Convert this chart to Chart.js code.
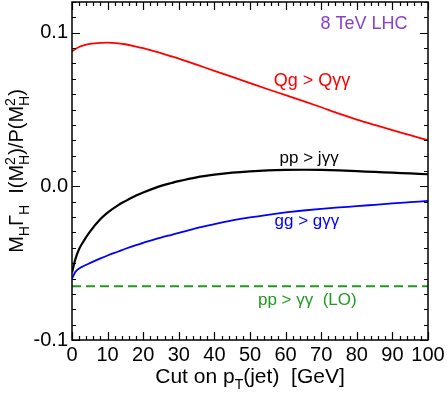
<!DOCTYPE html>
<html>
<head>
<meta charset="utf-8">
<script src="https://cdn.jsdelivr.net/npm/chart.js@4"></script>
<style>
  html, body { margin: 0; padding: 0; background: #fff; }
  #wrap { width: 447px; height: 393px; }
</style>
</head>
<body>
<div id="wrap"><canvas id="myChart" width="447" height="393"></canvas></div>
<script>
// pT(jet) cut values in GeV
const cuts = [0, 1, 2, 3, 5, 8, 10, 13, 15, 18, 20, 23, 25, 28, 30, 35, 40, 45, 50, 55, 60, 65, 70, 75, 80, 85, 90, 95, 100];
const qgQaa = [0.088, 0.0895, 0.0907, 0.0916, 0.0927, 0.0934, 0.0935, 0.0931, 0.0925, 0.0910, 0.0899, 0.0880, 0.0867, 0.0846, 0.0832, 0.0792, 0.0752, 0.0712, 0.0672, 0.0632, 0.0594, 0.0555, 0.0515, 0.0473, 0.0435, 0.0400, 0.0366, 0.0333, 0.0300];
const ppJaa = [-0.056, -0.047, -0.0408, -0.0366, -0.0296, -0.0213, -0.0171, -0.0122, -0.0096, -0.0060, -0.0040, -0.0013, 0.0003, 0.0022, 0.0034, 0.0059, 0.0076, 0.0089, 0.0098, 0.0104, 0.0107, 0.0108, 0.0107, 0.0104, 0.0099, 0.0094, 0.0089, 0.0084, 0.0079];
const ggGaa = [-0.060, -0.0555, -0.0535, -0.0522, -0.0500, -0.0469, -0.0450, -0.0424, -0.0406, -0.0382, -0.0368, -0.0346, -0.0333, -0.0315, -0.0303, -0.0272, -0.0246, -0.0222, -0.0202, -0.0185, -0.0170, -0.0157, -0.0146, -0.0137, -0.0129, -0.0120, -0.0111, -0.0103, -0.0095];
const ppAaLO = [-0.065, -0.065];
const loCuts = [0, 100];

const notes = [
    { text: "8 TeV LHC", x: 82, y: 0.1058, color: "#8a3fd0", size: 18 },
    { text: "Qg > Q\u03b3\u03b3", x: 67.4, y: 0.0683, color: "#ff0000", size: 18 },
    { text: "pp > j\u03b3\u03b3", x: 66.6, y: 0.0181, color: "#000000", size: 17 },
    { text: "gg > g\u03b3\u03b3", x: 66, y: -0.0227, color: "#0000ff", size: 17 },
    { text: "pp > \u03b3\u03b3  (LO)", x: 66.1, y: -0.0744, color: "#1f9a1f", size: 17 }
];

const FONT = "'Liberation Sans', Arial, Helvetica, sans-serif";

function pts(xs, ys) {
    return xs.map((x, i) => ({ x: x, y: ys[i] }));
}

// draws a run of text pieces: plain, subscript, or stacked sub+sup
function richWidth(ctx, segs, size) {
    let w = 0;
    const small = Math.round(size * 0.68);
    segs.forEach(s => {
        if (s.sub || s.sup) {
            ctx.font = small + "px " + FONT;
            w += Math.max(s.sub ? ctx.measureText(s.sub).width : 0, s.sup ? ctx.measureText(s.sup).width : 0);
        } else {
            ctx.font = size + "px " + FONT;
            w += ctx.measureText(s.t).width;
        }
    });
    return w;
}

function drawRich(ctx, segs, size, x, y) {
    const small = Math.round(size * 0.68);
    let cx = x - richWidth(ctx, segs, size) / 2;
    ctx.textBaseline = "alphabetic";
    ctx.textAlign = "left";
    segs.forEach(s => {
        if (s.sub || s.sup) {
            ctx.font = small + "px " + FONT;
            let w = 0;
            if (s.sub) { ctx.fillText(s.sub, cx, y + size * 0.3); w = ctx.measureText(s.sub).width; }
            if (s.sup) { ctx.fillText(s.sup, cx, y - size * 0.42); w = Math.max(w, ctx.measureText(s.sup).width); }
            cx += w;
        } else {
            ctx.font = size + "px " + FONT;
            ctx.fillText(s.t, cx, y);
            cx += ctx.measureText(s.t).width;
        }
    });
}

const frame = {
    id: "frame",
    afterDraw(chart) {
        const c = chart.ctx;
        const a = chart.chartArea;
        const xs = chart.scales.x, ys = chart.scales.y;
        c.save();
        c.strokeStyle = "#000";
        c.lineWidth = 1.5;
        c.strokeRect(a.left, a.top, a.right - a.left, a.bottom - a.top);
        c.lineWidth = 1.2;
        c.beginPath();
        xs.ticks.forEach(t => {
            const px = Math.round(xs.getPixelForValue(t.value)) + 0.5;
            const len = t.label ? 8 : 4;
            c.moveTo(px, a.bottom); c.lineTo(px, a.bottom - len);
            c.moveTo(px, a.top); c.lineTo(px, a.top + len);
        });
        ys.ticks.forEach(t => {
            const py = Math.round(ys.getPixelForValue(t.value)) + 0.5;
            const len = t.label ? 8 : 4;
            c.moveTo(a.left, py); c.lineTo(a.left + len, py);
            c.moveTo(a.right, py); c.lineTo(a.right - len, py);
        });
        c.stroke();

        // in-plot labels
        c.textAlign = "center";
        c.textBaseline = "middle";
        notes.forEach(n => {
            c.fillStyle = n.color;
            c.font = n.size + "px " + FONT;
            c.fillText(n.text, xs.getPixelForValue(n.x), ys.getPixelForValue(n.y));
        });

        // axis titles
        c.fillStyle = "#000";
        drawRich(c, [{ t: "Cut on p" }, { sub: "T" }, { t: "(jet)  [GeV]" }], 21, (a.left + a.right) / 2, 383);
        c.translate(23, (a.top + a.bottom) / 2);
        c.rotate(-Math.PI / 2);
        drawRich(c, [{ t: "M" }, { sub: "H" }, { t: "\u0393" }, { sub: "H" }, { t: "  I(M" }, { sub: "H", sup: "2" },
            { t: ")/P(M" }, { sub: "H", sup: "2" }, { t: ")" }], 20, 0, 0);
        c.restore();
    }
};

new Chart(document.getElementById("myChart"), {
    type: "line",
    data: {
        datasets: [
            { data: pts(cuts, qgQaa), borderColor: "#ff0000", borderWidth: 1.8 },
            { data: pts(cuts, ppJaa), borderColor: "#000000", borderWidth: 2.2 },
            { data: pts(cuts, ggGaa), borderColor: "#0000ff", borderWidth: 1.8 },
            { data: pts(loCuts, ppAaLO), borderColor: "#1f9a1f", borderWidth: 1.8, borderDash: [9, 5] }
        ]
    },
    options: {
        responsive: false,
        animation: false,
        layout: { padding: { top: 2, right: 19, left: 0, bottom: 0 } },
        elements: { point: { radius: 0 }, line: { cubicInterpolationMode: "monotone", fill: false } },
        plugins: { legend: { display: false }, tooltip: { enabled: false } },
        scales: {
            x: {
                type: "linear", min: 0, max: 100,
                grid: { display: false, drawTicks: false },
                border: { display: false },
                afterFit(s) { s.height = 53; s.paddingLeft = 0; s.paddingRight = 0; },
                ticks: {
                    stepSize: 2, autoSkip: false, maxRotation: 0, padding: 3, color: "#000",
                    font: { family: FONT, size: 20 },
                    callback: v => (Math.round(v) % 10 === 0 ? String(Math.round(v)) : "")
                }
            },
            y: {
                min: -0.1, max: 0.12,
                grid: { display: false, drawTicks: false },
                border: { display: false },
                afterFit(s) { s.width = 72; s.paddingTop = 0; s.paddingBottom = 0; },
                ticks: {
                    stepSize: 0.01, autoSkip: false, padding: 4, color: "#000",
                    font: { family: FONT, size: 20 },
                    callback: v => {
                        const k = Math.round(v * 100);
                        return k % 10 === 0 ? (k / 100).toFixed(1) : "";
                    }
                }
            }
        }
    },
    plugins: [frame]
});
</script>
</body>
</html>
